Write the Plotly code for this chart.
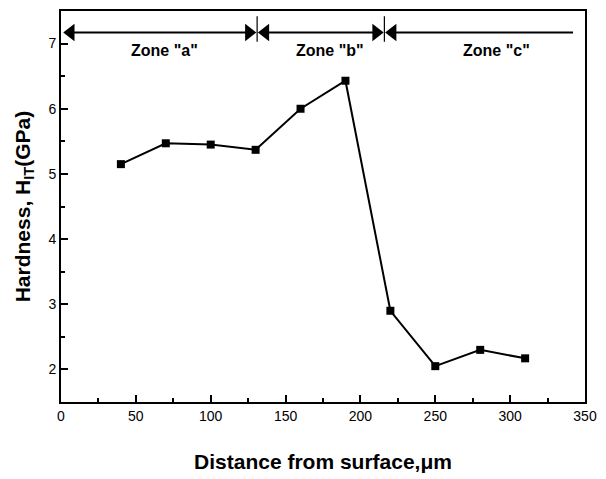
import plotly.graph_objects as go

distance = [40, 70, 100, 130, 160, 190, 220, 250, 280, 310]
hardness = [5.15, 5.47, 5.45, 5.37, 6.0, 6.43, 2.9, 2.05, 2.3, 2.17]

zone_labels = ['Zone "a"', 'Zone "b"', 'Zone "c"']
zone_label_x = [69, 180, 291]
zone_bounds = [1, 131, 216, 344]
zone_arrow_y = 7.17
zone_label_y = 6.9

fig = go.Figure()
fig.add_trace(go.Scatter(
    x=distance, y=hardness, mode="lines+markers",
    line=dict(color="black", width=2),
    marker=dict(symbol="square", size=8, color="black"),
    showlegend=False, hoverinfo="skip",
))

# dividers
for xb in zone_bounds[1:3]:
    fig.add_shape(type="line", x0=xb, x1=xb, y0=7.03, y1=7.42,
                  xref="x", yref="y", line=dict(color="black", width=1.2))

# arrow shafts
for i in range(3):
    fig.add_trace(go.Scatter(
        x=[zone_bounds[i] + 2, zone_bounds[i + 1] - 2], y=[zone_arrow_y, zone_arrow_y],
        mode="lines", line=dict(color="black", width=2),
        showlegend=False, hoverinfo="skip",
    ))

# arrow heads (offset so the tip meets the boundary)
off = 5.5
left_heads = [zone_bounds[0] + off, zone_bounds[1] + off, zone_bounds[2] + off]
right_heads = [zone_bounds[1] - off, zone_bounds[2] - off]
fig.add_trace(go.Scatter(
    x=left_heads, y=[zone_arrow_y] * len(left_heads), mode="markers",
    marker=dict(symbol="triangle-left", size=15, color="black"),
    showlegend=False, hoverinfo="skip",
))
fig.add_trace(go.Scatter(
    x=right_heads, y=[zone_arrow_y] * len(right_heads), mode="markers",
    marker=dict(symbol="triangle-right", size=15, color="black"),
    showlegend=False, hoverinfo="skip",
))

for lab, lx in zip(zone_labels, zone_label_x):
    fig.add_annotation(x=lx, y=zone_label_y, text=lab, showarrow=False,
                       xref="x", yref="y",
                       font=dict(family="Liberation Sans, Arial", size=16, color="black", weight="bold"))

fig.update_layout(
    width=606, height=479,
    margin=dict(l=61, r=14, t=9, b=74),
    plot_bgcolor="white", paper_bgcolor="white",
    font=dict(family="Liberation Sans, Arial", color="black"),
)
fig.update_xaxes(
    range=[0, 350], dtick=50, tick0=0,
    ticks="inside", ticklen=7, tickwidth=2, tickcolor="black",
    minor=dict(ticks="inside", dtick=25, ticklen=4, tickwidth=1.5, tickcolor="black"),
    showline=True, linecolor="black", linewidth=2, mirror=True,
    showgrid=False, zeroline=False,
    tickfont=dict(size=14, color="black"),
    title=dict(text="Distance from surface,μm", standoff=32,
               font=dict(size=21, color="black", weight="bold")),
)
fig.update_yaxes(
    range=[1.5, 7.5], dtick=1, tick0=0,
    ticks="inside", ticklen=7, tickwidth=2, tickcolor="black",
    minor=dict(ticks="inside", dtick=0.5, ticklen=4, tickwidth=1.5, tickcolor="black"),
    showline=True, linecolor="black", linewidth=2, mirror=True,
    showgrid=False, zeroline=False,
    tickfont=dict(size=14, color="black"),
    title=dict(text="Hardness, H<sub>IT</sub>(GPa)", standoff=12,
               font=dict(size=21, color="black", weight="bold")),
)

fig.write_html(
    "out.html",
    config={"displayModeBar": False},
    post_script="document.body.style.margin='0';document.body.style.overflow='hidden';",
)
